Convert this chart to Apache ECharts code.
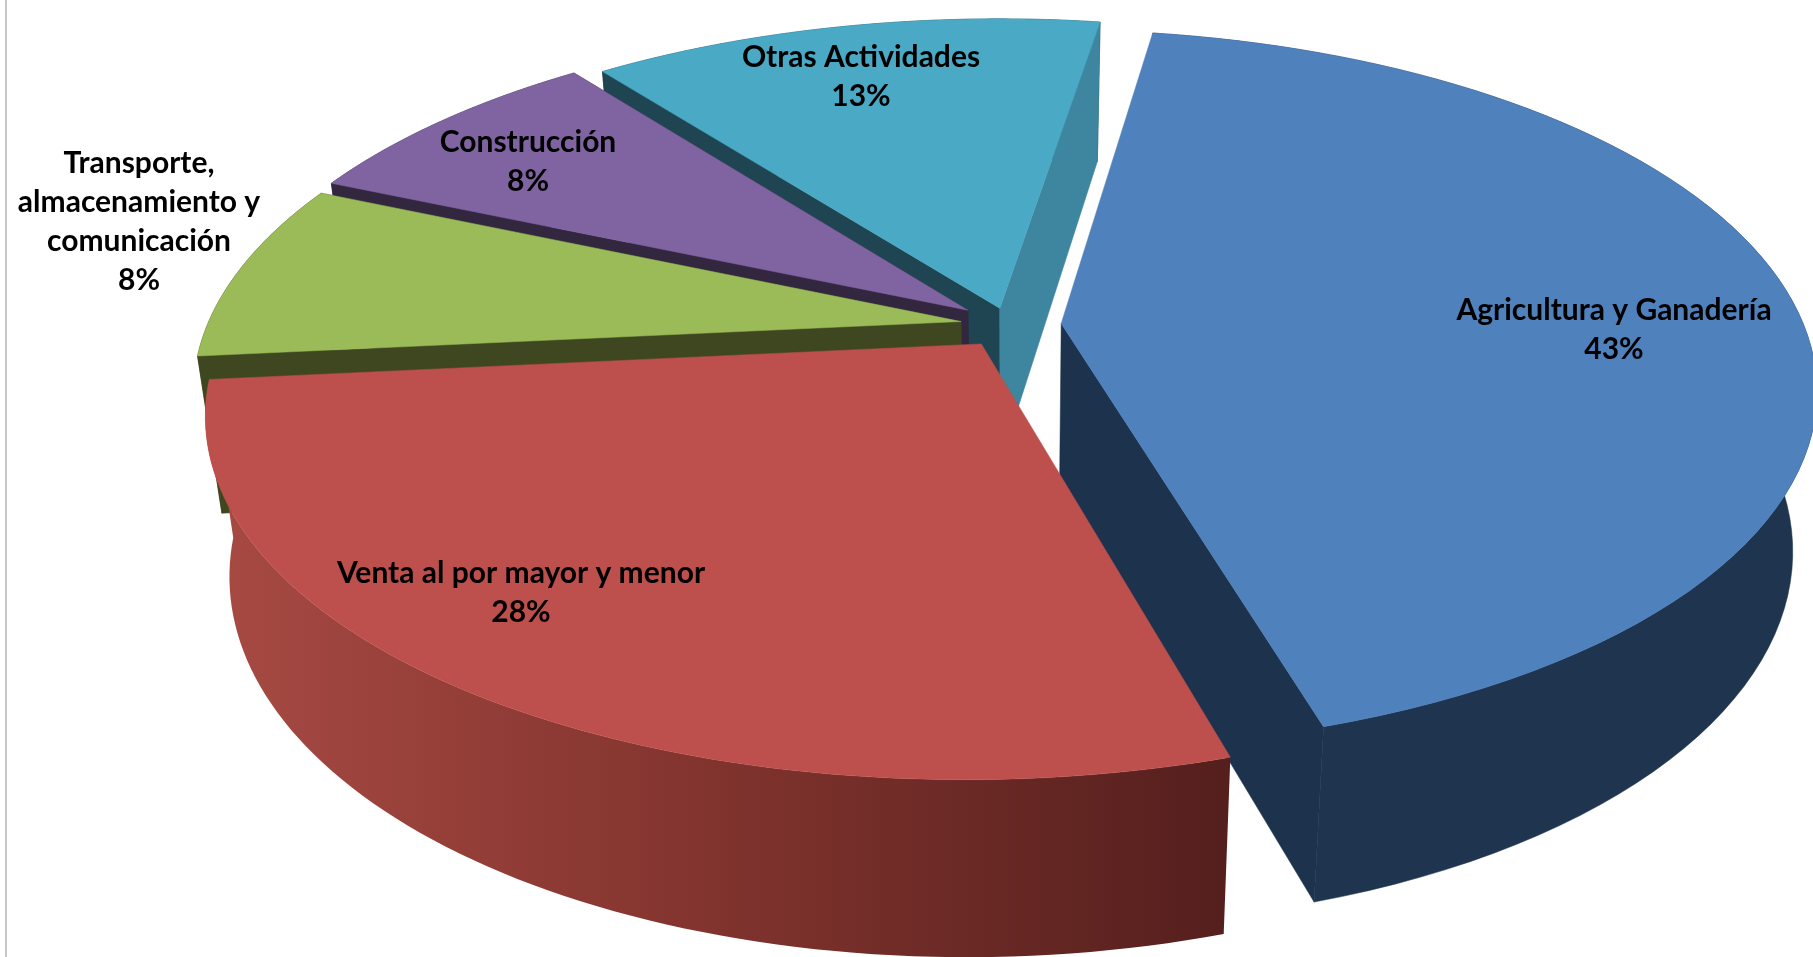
<!DOCTYPE html>
<html><head><meta charset="utf-8">
<style>html,body{margin:0;padding:0;background:#fff;overflow:hidden}#c{width:1813px;height:957px}</style>
<script src="https://cdn.jsdelivr.net/npm/echarts@6/dist/echarts.min.js"></script>
</head><body><div id="c"></div>
<script>
const categories = ['Agricultura y Ganadería','Venta al por mayor y menor','Transporte,\nalmacenamiento y\ncomunicación','Construcción','Otras Actividades'];
const shares = [43, 28, 8, 8, 13];
const explode = [0.07, 0.065, 0.065, 0.07, 0.05];

const VIEW = {cx:1009, cy:325, a:748, b:-11, c:-6.5, d:-348, p:0.01, q:0.183, depth:156, pD:0.115, shrink:0.03, startDeg:9.9};
const topColors = ['#4f81bd','#bd4f4c','#9bbb59','#8064a2','#4aa9c4'];
const wallColors = ['#1e344f',null,'#3f4720','#33263f','#1e4551'];
const cutA = [null,null,'#3f4720','#33263f','#1e4551'];
const cutB = ['#1d324d',null,'#3f4720','#33263f','#3e859f'];
const drawRank = [3,4,2,1,0];
const labelAt = [[1614,330],[521,593],[139,222],[528,162],[861,77]];

function project(x,z,h){
  const w = 1 + VIEW.p*x + VIEW.q*z;
  const k = 1 - VIEW.shrink*h;
  return [VIEW.cx + (VIEW.a*x + VIEW.b*z)/w*k,
          VIEW.cy + (VIEW.c*x + VIEW.d*z)/w + VIEW.depth*h/(1+VIEW.pD*z)];
}
const total = shares.reduce((a,b)=>a+b,0);
function renderSlice(params, api){
  const i = params.dataIndex;
  const v = api.value(0);
  let before = 0; for(let j=0;j<i;j++) before += shares[j];
  const a0 = (VIEW.startDeg + before/total*360)*Math.PI/180;
  const a1 = a0 + v/total*2*Math.PI;
  const mid = (a0+a1)/2, e = explode[i];
  const ox = e*Math.sin(mid), oz = e*Math.cos(mid);
  const top=[], bot=[];
  const N=80;
  for(let n=0;n<=N;n++){
    const a=a0+(a1-a0)*n/N;
    top.push(project(ox+Math.sin(a),oz+Math.cos(a),0));
    bot.push(project(ox+Math.sin(a),oz+Math.cos(a),1));
  }
  const ct=project(ox,oz,0), cb=project(ox,oz,1);
  const rank=drawRank[i]*10;
  const poly=(pts,fill,z)=>({type:'polygon',shape:{points:pts},style:{fill:fill,stroke:typeof fill==='string'?fill:null,lineWidth:typeof fill==='string'?0.5:0},z2:rank+z,silent:true});
  let wallFill = wallColors[i];
  if(i===1){
    wallFill=new echarts.graphic.LinearGradient(0,0,1,0,[{offset:0,color:'#a84a44'},{offset:0.45,color:'#85352f'},{offset:1,color:'#541f1d'}]);
  }
  const children=[poly(top.concat(bot.slice().reverse()),wallFill,0)];
  if(cutA[i]) children.push(poly([ct,top[0],bot[0],cb],cutA[i],1));
  if(cutB[i]) children.push(poly([ct,top[N],bot[N],cb],cutB[i],1));
  children.push(poly([ct].concat(top),topColors[i],2));
  const t = categories[i]+'\n'+Math.round(shares[i])+'%';
  children.push({type:'text',z2:100,silent:true,style:{text:t,x:labelAt[i][0],y:labelAt[i][1],fill:'#000',font:'700 30px Lato',lineHeight:39,align:'center',verticalAlign:'middle'}});
  return {type:'group',children};
}
const chart=echarts.init(document.getElementById('c'),null,{renderer:'canvas'});
chart.setOption({
  animation:false,
  graphic:[{type:'line',shape:{x1:6,y1:0,x2:6,y2:957},style:{stroke:'#b5b5b5',lineWidth:1.5},silent:true}],
  series:[{type:'custom',coordinateSystem:'none',renderItem:renderSlice,data:shares.map(v=>[v]),encode:{value:0},clip:false}]
});
</script></body></html>
